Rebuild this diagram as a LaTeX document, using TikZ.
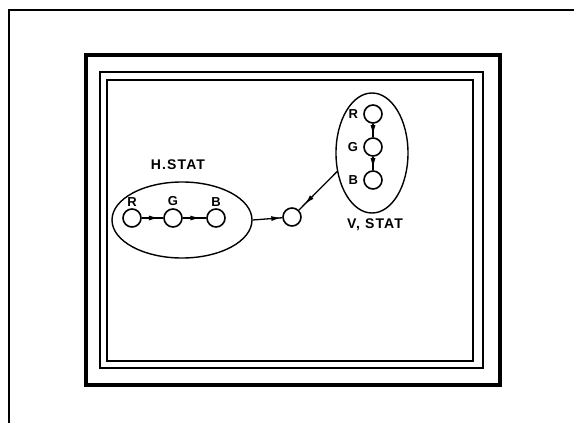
\documentclass[tikz,border=0pt]{standalone}
\usepackage{fontspec}
\setsansfont{Liberation Sans}
\usetikzlibrary{positioning,shapes.geometric,arrows.meta,decorations.markings}

\begin{document}
\begin{tikzpicture}[x=1pt,y=-1pt,font=\sffamily\bfseries,
  dot/.style={circle,draw,line width=1.6pt,minimum size=18pt,inner sep=0pt},
  group/.style={ellipse,draw,line width=1.4pt,inner sep=0pt},
  tag/.style={font=\sffamily\bfseries\fontsize{13}{13}\selectfont,inner sep=0pt},
  title/.style={font=\sffamily\bfseries\fontsize{14}{14}\selectfont\addfontfeatures{LetterSpace=8},inner sep=0pt},
  midarrow/.style={line width=1.3pt,postaction={decorate},
    decoration={markings,mark=at position #1 with {\arrow{Latex[length=10pt,width=5pt]}}}},
  midarrow/.default=0.7]
  \useasboundingbox (0,0) rectangle (574,423);
  % ---- frames ----
  \draw[line width=2.8pt] (9,423) -- (9,10) -- (574,10);
  \draw[line width=3.5pt] (86,55) rectangle (500,385);
  \draw[line width=2pt] (100,72) rectangle (483,368);
  \draw[line width=2.8pt] (107,80) rectangle (473,361);
  % ---- H.STAT group ----
  \node[group,minimum width=140pt,minimum height=76pt] (hstat) at (182,220) {};
  \node[dot] (hR) at (132,218) {};
  \node[dot] (hG) at (173,218) {};
  \node[dot] (hB) at (216,218) {};
  \foreach \c/\l in {hR/R, hG/G, hB/B}
    \node[tag,above=2pt of \c] {\l};
  \node[title] (hname) at (178,165) {H.STAT};
  \draw[midarrow=0.8] (hR) -- (hG);
  \draw[midarrow=0.75] (hG) -- (hB);
  % ---- V.STAT group ----
  \node[group,minimum width=72pt,minimum height=120pt] (vstat) at (372,153) {};
  \node[dot] (vR) at (373,114) {};
  \node[dot] (vG) at (373,147) {};
  \node[dot] (vB) at (373,180) {};
  \foreach \c/\l in {vR/R, vG/G, vB/B}
    \node[tag,left=5pt of \c] {\l};
  \node[title] (vname) at (375,225) {V, STAT};
  \draw[midarrow=0.85] (vR) -- (vG);
  \draw[midarrow=0.85] (vG) -- (vB);
  % ---- mixer ----
  \node[dot] (mix) at (292,217) {};
  \draw[midarrow=0.97] (hstat.east) -- (mix);
  \draw[midarrow=0.85] (vstat.208) -- (mix);
\end{tikzpicture}
\end{document}
